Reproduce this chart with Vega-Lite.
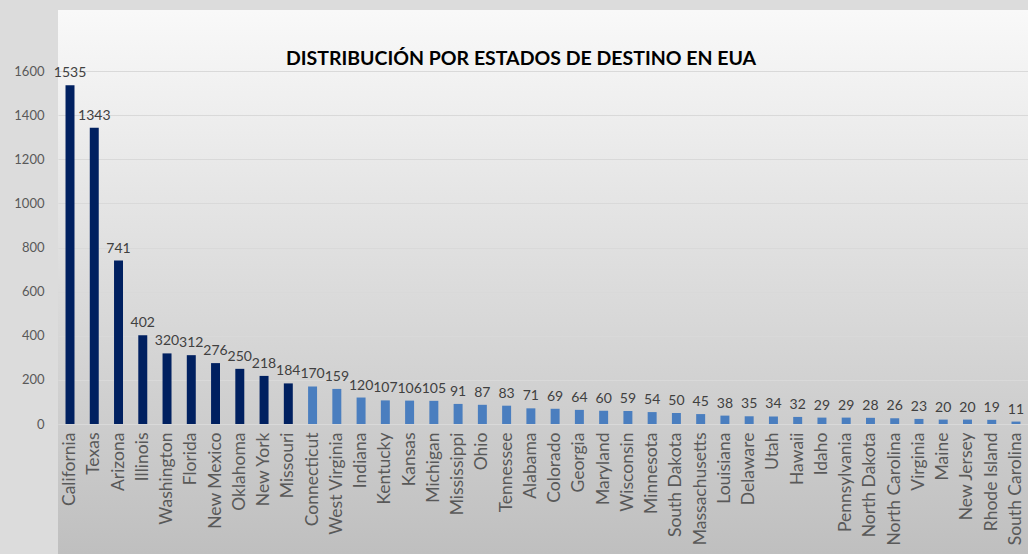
{
  "$schema": "https://vega.github.io/schema/vega-lite/v6.json",
  "width": 970,
  "height": 544,
  "autosize": {"type": "none"},
  "padding": {"left": 58, "top": 10, "right": 0, "bottom": 0},
  "background": "#dcdcdc",
  "title": {
    "text": "DISTRIBUCIÓN POR ESTADOS DE DESTINO EN EUA",
    "anchor": "middle",
    "font": "Lato",
    "fontSize": 19.5,
    "fontWeight": "bold",
    "color": "#000000",
    "baseline": "alphabetic",
    "offset": 0,
    "dx": -22,
    "dy": 74
  },
  "config": {
    "view": {
      "stroke": null,
      "fill": {
        "gradient": "linear",
        "x1": 0, "y1": 0, "x2": 0, "y2": 1,
        "stops": [
          {"offset": 0, "color": "#f9f9f9"},
          {"offset": 1, "color": "#bfbfbf"}
        ]
      }
    }
  },
  "data": {
    "values": [
      {"estado": "California", "n": 1535},
      {"estado": "Texas", "n": 1343},
      {"estado": "Arizona", "n": 741},
      {"estado": "Illinois", "n": 402},
      {"estado": "Washington", "n": 320},
      {"estado": "Florida", "n": 312},
      {"estado": "New Mexico", "n": 276},
      {"estado": "Oklahoma", "n": 250},
      {"estado": "New York", "n": 218},
      {"estado": "Missouri", "n": 184},
      {"estado": "Connecticut", "n": 170},
      {"estado": "West Virginia", "n": 159},
      {"estado": "Indiana", "n": 120},
      {"estado": "Kentucky", "n": 107},
      {"estado": "Kansas", "n": 106},
      {"estado": "Michigan", "n": 105},
      {"estado": "Mississippi", "n": 91},
      {"estado": "Ohio", "n": 87},
      {"estado": "Tennessee", "n": 83},
      {"estado": "Alabama", "n": 71},
      {"estado": "Colorado", "n": 69},
      {"estado": "Georgia", "n": 64},
      {"estado": "Maryland", "n": 60},
      {"estado": "Wisconsin", "n": 59},
      {"estado": "Minnesota", "n": 54},
      {"estado": "South Dakota", "n": 50},
      {"estado": "Massachusetts", "n": 45},
      {"estado": "Louisiana", "n": 38},
      {"estado": "Delaware", "n": 35},
      {"estado": "Utah", "n": 34},
      {"estado": "Hawaii", "n": 32},
      {"estado": "Idaho", "n": 29},
      {"estado": "Pennsylvania", "n": 29},
      {"estado": "North Dakota", "n": 28},
      {"estado": "North Carolina", "n": 26},
      {"estado": "Virginia", "n": 23},
      {"estado": "Maine", "n": 20},
      {"estado": "New Jersey", "n": 20},
      {"estado": "Rhode Island", "n": 19},
      {"estado": "South Carolina", "n": 11}
    ]
  },
  "encoding": {
    "x": {
      "field": "estado",
      "type": "nominal",
      "sort": null,
      "scale": {"paddingInner": 0.63, "paddingOuter": 0.31},
      "axis": {
        "title": null,
        "orient": "bottom",
        "offset": -130,
        "labelAngle": -90,
        "ticks": false,
        "labelPadding": 8,
        "labelFont": "Lato",
        "labelFontSize": 17.5,
        "labelColor": "#595959",
        "domainColor": "#d9d9d9",
        "grid": false
      }
    },
    "y": {
      "field": "n",
      "type": "quantitative",
      "scale": {"domain": [0, 1600], "range": [414, 61], "nice": false},
      "axis": {
        "title": null,
        "values": [0, 200, 400, 600, 800, 1000, 1200, 1400, 1600],
        "format": "d",
        "domain": false,
        "ticks": false,
        "labelPadding": 14,
        "labelFont": "Lato",
        "labelFontSize": 13,
        "labelColor": "#595959",
        "gridColor": "#d9d9d9"
      }
    }
  },
  "layer": [
    {
      "mark": {"type": "bar"},
      "encoding": {
        "color": {
          "condition": {"test": "datum.n >= 180", "value": "#002060"},
          "value": "#4a7ebf"
        }
      }
    },
    {
      "mark": {
        "type": "text",
        "baseline": "bottom",
        "dy": -5,
        "font": "Lato",
        "fontSize": 14,
        "color": "#404040"
      },
      "encoding": {"text": {"field": "n", "type": "quantitative"}}
    }
  ]
}
